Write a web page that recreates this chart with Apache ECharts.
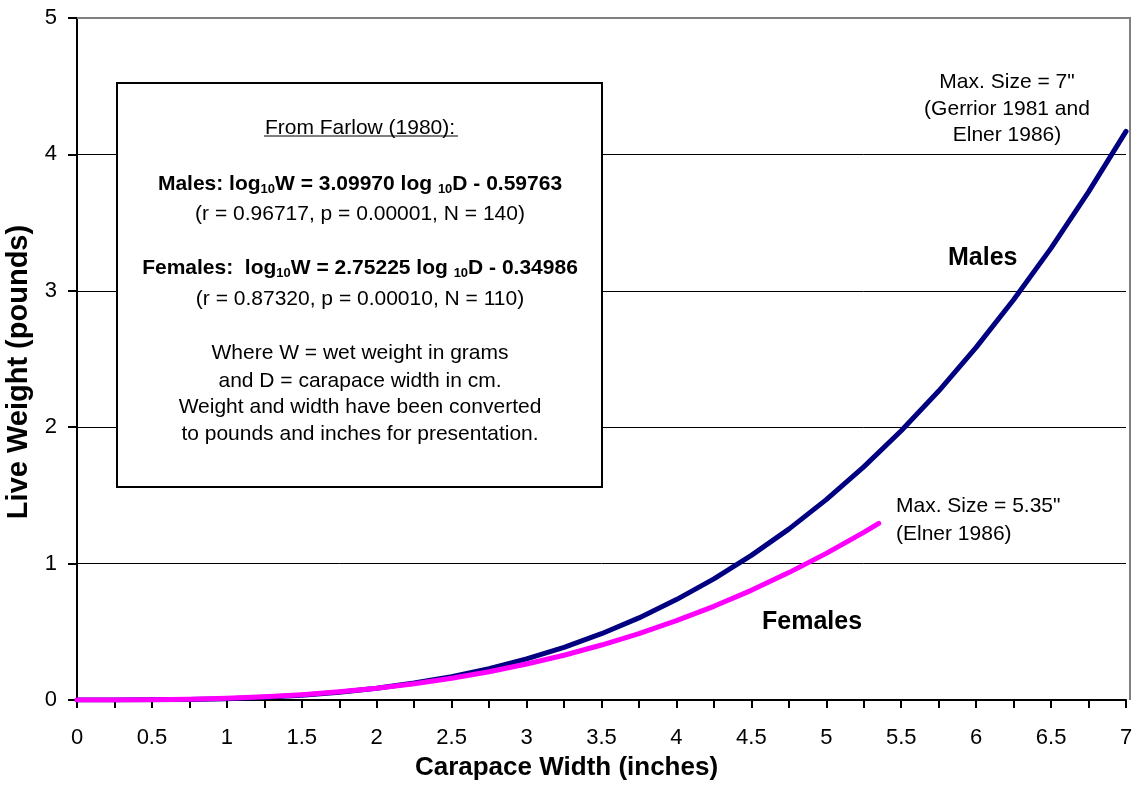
<!DOCTYPE html>
<html>
<head>
<meta charset="utf-8">
<script src="https://cdn.jsdelivr.net/npm/echarts@6/dist/echarts.min.js"></script>
<style>html,body{margin:0;padding:0;background:#fff}#c{width:1135px;height:788px}</style>
</head>
<body>
<div id="c"></div>
<script>
// ---- data ----
const xMales = [0,0.25,0.5,0.75,1,1.25,1.5,1.75,2,2.25,2.5,2.75,3,3.25,3.5,3.75,4,4.25,4.5,4.75,5,5.25,5.5,5.75,6,6.25,6.5,6.75,7];
const males  = [0,0.000,0.001,0.004,0.010,0.020,0.035,0.057,0.086,0.124,0.171,0.230,0.302,0.386,0.486,0.602,0.736,0.888,1.060,1.253,1.469,1.709,1.974,2.265,2.585,2.934,3.313,3.725,4.169];
const xFemales = [0,0.25,0.5,0.75,1,1.25,1.5,1.75,2,2.25,2.5,2.75,3,3.25,3.5,3.75,4,4.25,4.5,4.75,5,5.25,5.35];
const females  = [0,0.000,0.002,0.006,0.013,0.024,0.039,0.060,0.086,0.119,0.160,0.207,0.264,0.328,0.403,0.487,0.582,0.687,0.804,0.934,1.075,1.229,1.295];
const xTickLabels = ['0','0.5','1','1.5','2','2.5','3','3.5','4','4.5','5','5.5','6','6.5','7'];
const yTickLabels = ['0','1','2','3','4','5'];
const xName = 'Carapace Width (inches)';
const yName = 'Live Weight (pounds)';

const FONT = 'Liberation Sans, Arial, Helvetica, sans-serif';
const chart = echarts.init(document.getElementById('c'), null, {renderer: 'canvas'});

const zip = (xs, ys) => xs.map((x, i) => [x, ys[i]]);

const main = {fontFamily: FONT, fontSize: 21, fontWeight: 'bold', lineHeight: 21, verticalAlign: 'top', color: '#000'};
const sub  = {fontFamily: FONT, fontSize: 13, fontWeight: 'bold', lineHeight: 13, verticalAlign: 'top', padding: [9,0,0,0], color: '#000'};

function boxText(y, text, opts) {
  return {
    type: 'text', x: 360, y: y, z: 20,
    style: Object.assign({text: text, fontFamily: FONT, fontSize: 21, fill: '#000', align: 'center', verticalAlign: 'middle'}, opts || {})
  };
}

const option = {
  animation: false,
  backgroundColor: '#fff',
  grid: {left: 77, right: 9, top: 18, bottom: 88, show: false, containLabel: false, outerBoundsMode: 'none'},
  xAxis: {
    type: 'value', min: 0, max: 7, interval: 0.25,
    name: xName, nameLocation: 'middle', nameGap: 55,
    nameTextStyle: {fontFamily: FONT, fontSize: 26, fontWeight: 'bold', color: '#000', padding: [0, 70, 0, 0]},
    axisLine: {show: true, onZero: false, lineStyle: {color: '#000', width: 2}},
    axisTick: {show: true, inside: false, length: 8, lineStyle: {color: '#000', width: 2}},
    axisLabel: {
      fontFamily: FONT, fontSize: 22, color: '#000', margin: 27,
      formatter: v => { const s = String(Math.round(v * 100) / 100); return xTickLabels.indexOf(s) >= 0 ? s : ''; }
    },
    splitLine: {show: false}
  },
  yAxis: {
    type: 'value', min: 0, max: 5, interval: 1,
    name: yName, nameLocation: 'middle', nameGap: 43, nameRotate: 90,
    nameTextStyle: {fontFamily: FONT, fontSize: 29, fontWeight: 'bold', color: '#000', padding: [0, 26, 0, 0]},
    axisLine: {show: true, lineStyle: {color: '#000', width: 2}},
    axisTick: {show: true, inside: false, length: 9, lineStyle: {color: '#000', width: 2}},
    axisLabel: {
      fontFamily: FONT, fontSize: 22, color: '#000', margin: 20,
      formatter: v => { const s = String(v); return yTickLabels.indexOf(s) >= 0 ? s : ''; }
    },
    splitLine: {show: true, lineStyle: {color: ['#000','#000','#000','#000','#000','#808080'], width: 1}}
  },
  series: [
    {
      name: 'Males', type: 'line', data: zip(xMales, males), showSymbol: false, symbol: 'none',
      smooth: false, z: 3,
      lineStyle: {color: '#000080', width: 5, cap: 'round', join: 'round'}
    },
    {
      name: 'Females', type: 'line', data: zip(xFemales, females), showSymbol: false, symbol: 'none',
      smooth: false, z: 4,
      lineStyle: {color: '#FF00FF', width: 5, cap: 'round', join: 'round'}
    }
  ],
  graphic: [
    {type: 'polyline', z: 1, shape: {points: [[77, 18], [1130, 18], [1130, 700]]}, style: {stroke: '#808080', lineWidth: 2, fill: null}},
    {type: 'rect', z: 10, shape: {x: 117, y: 83, width: 485, height: 404}, style: {fill: '#fff', stroke: '#000', lineWidth: 2}},
    boxText(128, 'From Farlow (1980):'),
    {type: 'line', z: 20, shape: {x1: 264, y1: 136, x2: 458, y2: 136}, style: {stroke: '#000', lineWidth: 1}},
    boxText(184, '{m|Males: log}{s|10}{m|W = 3.09970 log }{s|10}{m|D - 0.59763}', {rich: {m: main, s: sub}}),
    boxText(214, '(r = 0.96717, p = 0.00001, N = 140)'),
    boxText(268, '{m|Females:  log}{s|10}{m|W = 2.75225 log }{s|10}{m|D - 0.34986}', {rich: {m: main, s: sub}}),
    boxText(299, '(r = 0.87320, p = 0.00010, N = 110)'),
    boxText(353, 'Where W = wet weight in grams'),
    boxText(381, 'and D = carapace width in cm.'),
    boxText(407, 'Weight and width have been converted'),
    boxText(434.5, 'to pounds and inches for presentation.'),
    {type: 'text', z: 20, x: 1007, y: 109, style: {text: 'Max. Size = 7"\n(Gerrior 1981 and\nElner 1986)', fontFamily: FONT, fontSize: 21, lineHeight: 26.6, fill: '#000', align: 'center', verticalAlign: 'middle'}},
    {type: 'text', z: 20, x: 896, y: 520, style: {text: 'Max. Size = 5.35"\n(Elner 1986)', fontFamily: FONT, fontSize: 21, lineHeight: 27.5, fill: '#000', align: 'left', verticalAlign: 'middle'}},
    {type: 'text', z: 20, x: 948, y: 258, style: {text: 'Males', fontFamily: FONT, fontSize: 25, fontWeight: 'bold', fill: '#000', align: 'left', verticalAlign: 'middle'}},
    {type: 'text', z: 20, x: 762, y: 622, style: {text: 'Females', fontFamily: FONT, fontSize: 25, fontWeight: 'bold', fill: '#000', align: 'left', verticalAlign: 'middle'}}
  ]
};
chart.setOption(option);
</script>
</body>
</html>
